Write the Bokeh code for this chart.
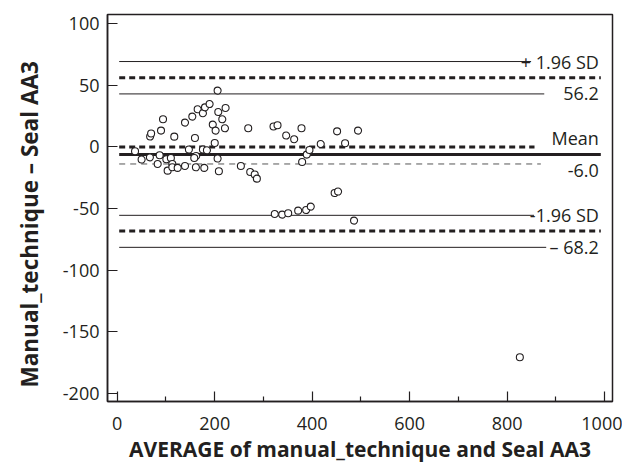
from bokeh.plotting import figure
from bokeh.models import Range1d, FixedTicker, Title
from bokeh.core.properties import value
from bokeh.embed import file_html
from bokeh.resources import INLINE

# ---- data ----
avg = [36.5, 50, 67, 67.5, 69.5, 89.8, 93.9, 83, 87, 100.7, 103.4, 110, 113, 113,
       117, 124, 139, 139, 147, 154, 159.4, 162, 158, 161.4, 165, 175.8, 180, 189.5,
       175.8, 184, 178.6, 196, 201.8, 200, 205.9, 207.3, 215.5, 222.3, 221, 205.9,
       208.5, 253.6, 268.7, 272.8, 282, 286.4, 320.6, 328.8, 346.6, 363, 378, 379.3,
       388.8, 394.3, 417.5, 323.2, 338.4, 350.7, 371.2, 387.5, 397, 451, 494, 467.4,
       446, 453, 485.8, 825.9]
diff = [-3.5, -10.2, -8.4, 8.5, 10.9, 13.3, 22.5, -13.8, -6.7, -10, -19.2, -8.9, -13.8, -16.5,
        8.4, -17, 19.8, -15.4, -2.1, 24.7, 7.3, -7.3, -8.9, -16.5, 30.6, 27.4, 32.2, 34.9,
        -2.1, -2.7, -17, 18.2, 13.3, 3.2, 45.8, 28.4, 22.5, 31.7, 15.2, -9.4,
        -19.7, -15.4, 15.2, -20.3, -22.4, -25.7, 16.6, 17.6, 9.3, 6.3, 15.2, -12.2,
        -6.2, -2.4, 2.4, -54.4, -54.9, -53.8, -51.7, -51.2, -48.4, 12.7, 13.3, 3.0,
        -37.4, -36.2, -59.8, -170.8]

mean_diff = -6.0
loa_upper = 56.2
loa_lower = -68.2
equality = 0.0
mean_ci_low = -13.8
upper_ci = [69.4, 43.1]
lower_ci = [-55.5, -81.5]

x_ticks = [0, 200, 400, 600, 800, 1000]
x_minor = [100, 300, 500, 700, 900]
y_ticks = [-200, -150, -100, -50, 0, 50, 100]

ref_labels = ["+ 1.96 SD", "56.2", "Mean", "-6.0", "-1.96 SD", "\u2013 68.2"]
x_title = "AVERAGE of manual_technique and Seal AA3"
y_title = "Manual_technique \u2013 Seal AA3"

INK = "#231f20"
FONT = "Open Sans"

p = figure(width=622, height=467, output_backend="svg", toolbar_location=None,
           x_range=Range1d(-20, 1016), y_range=Range1d(-206.7, 107.6),
           min_border_left=106, min_border_right=10, min_border_top=14, min_border_bottom=66,
           background_fill_color="white", border_fill_color="white")

# reference lines
x0 = 4
thin_y = upper_ci + lower_ci
p.segment(x0=[x0] * 4, x1=[849, 876, 855, 880], y0=thin_y, y1=thin_y,
          line_color=INK, line_width=1)
thick_dash_y = [loa_upper, equality, loa_lower]
p.segment(x0=[x0] * 3, x1=[992, 856, 992], y0=thick_dash_y, y1=thick_dash_y,
          line_color=INK, line_width=3, line_dash="6 4")
p.segment(x0=[x0], x1=[992], y0=[mean_diff], y1=[mean_diff],
          line_color=INK, line_width=3)
p.segment(x0=[x0], x1=[869], y0=[mean_ci_low], y1=[mean_ci_low],
          line_color="#555555", line_width=1, line_dash="6 5")

# labels on the right
lab_y = [upper_ci[0], upper_ci[1], equality, mean_ci_low, lower_ci[0], lower_ci[1]]
p.text(x=[988] * 6, y=lab_y, text=ref_labels, y_offset=[0, 0, -9, 7, 0, 0],
       text_align="right", text_baseline="middle", text_color=INK,
       text_font=value(FONT), text_font_size="18px")

# points
p.scatter(avg, diff, size=7, fill_color="white", line_color=INK, line_width=1.1)

# axes
p.xgrid.visible = False
p.ygrid.visible = False
p.outline_line_color = INK
p.outline_line_width = 1.5
p.outline_line_alpha = 1

p.xaxis.ticker = FixedTicker(ticks=x_ticks, minor_ticks=x_minor)
p.yaxis.ticker = FixedTicker(ticks=y_ticks)
p.yaxis.major_label_overrides = {t: str(t) for t in y_ticks}
p.xaxis.major_label_overrides = {t: str(t) for t in x_ticks}
for ax in (p.xaxis[0], p.yaxis[0]):
    ax.axis_line_color = INK
    ax.axis_line_width = 1.5
    ax.major_tick_in = 10
    ax.major_tick_out = 0
    ax.minor_tick_in = 5
    ax.minor_tick_out = 0
    ax.major_tick_line_color = INK
    ax.major_tick_line_width = 1.2
    ax.minor_tick_line_color = INK
    ax.minor_tick_line_width = 1.2
    ax.major_label_text_font = FONT
    ax.major_label_text_font_size = "18px"
    ax.major_label_text_color = INK
    ax.axis_label_text_font = FONT
    ax.axis_label_text_font_style = "bold"
    ax.axis_label_text_font_size = "21px"
    ax.axis_label_text_color = INK
p.yaxis.minor_tick_line_color = None
p.xaxis.axis_label = x_title
p.xaxis.major_label_standoff = 15
p.xaxis.axis_label_standoff = 2
p.yaxis.major_label_standoff = 8

yt = Title(text=y_title, align="left", offset=14, standoff=26, vertical_align="top",
           text_font=FONT, text_font_style="bold", text_font_size="22.5px",
           text_color=INK)
p.add_layout(yt, "left")

open("out.html", "w").write(file_html(p, INLINE))
